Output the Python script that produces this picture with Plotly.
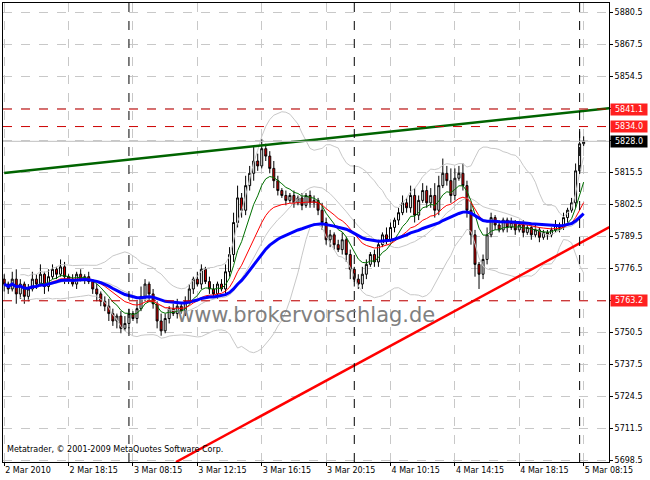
import pandas as pd
import plotly.graph_objects as go

# 15-minute closes
closes = [5770, 5768, 5772, 5766, 5770, 5765, 5768, 5772, 5770, 5774, 5769,
          5773, 5776, 5774, 5777, 5773, 5772, 5770, 5774, 5772, 5773, 5771,
          5768, 5766, 5763, 5761, 5758, 5755, 5757, 5752, 5754, 5758,
          5756, 5760, 5765, 5770, 5766, 5762, 5755, 5751, 5756, 5760,
          5758, 5761, 5759, 5763, 5768, 5772, 5770, 5776, 5771, 5768,
          5766, 5770, 5768, 5775, 5782, 5795, 5805, 5800, 5810, 5815,
          5820, 5818, 5825, 5822, 5817, 5812, 5808, 5806, 5804, 5806,
          5803, 5805, 5802, 5806, 5803, 5804, 5800, 5795, 5788,
          5790, 5786, 5784, 5788, 5782, 5776, 5772, 5770, 5774, 5778,
          5782, 5779, 5786, 5790, 5788, 5793, 5796, 5799, 5803, 5801,
          5806, 5798, 5804, 5808, 5803, 5806, 5800, 5810, 5815, 5812,
          5806, 5813, 5815, 5810, 5800, 5790, 5778, 5774, 5780, 5790,
          5797, 5794, 5792, 5796, 5793, 5795, 5792, 5794, 5791, 5793,
          5790, 5792, 5789, 5791, 5790, 5792, 5794, 5793, 5797, 5800,
          5803, 5816, 5827, 5828]
first_open = 5772
wick_up = [int(v) for v in (
    "2 1 3 4 2 1 2 3 2 4 1 3 2 1 3 2 1 2 1 2 1 2 1 2 1 2 3 2 1 2 3 2 1 3 4 2 1 2 1 3 2 "
    "1 2 3 1 2 2 1 3 2 1 2 2 1 2 3 3 4 5 2 4 3 6 3 4 2 2 3 2 1 2 1 2 1 2 1 2 2 1 3 2 "
    "2 1 2 3 1 2 1 2 3 2 1 2 2 1 3 2 1 2 3 2 4 3 2 3 2 3 5 4 6 3 5 4 3 4 2 3 2 1 2 3 "
    "2 1 2 1 1 2 1 1 2 1 1 2 1 1 1 1 2 1 2 1 2 3 5 2").split()]
wick_dn = [int(v) for v in (
    "3 2 1 4 2 3 2 1 2 1 3 2 1 2 1 3 2 1 2 1 2 1 2 3 2 2 3 2 3 2 1 2 1 2 1 2 3 2 3 2 1 "
    "2 1 2 1 2 1 2 1 2 1 2 1 2 1 2 2 3 2 3 2 2 3 2 1 2 2 3 2 1 2 1 2 1 2 1 2 2 2 3 2 "
    "3 2 1 2 3 4 3 2 2 2 1 2 2 1 2 1 2 2 1 2 2 3 2 1 2 2 3 2 1 2 3 2 1 2 3 4 5 6 2 2 "
    "1 2 1 1 2 1 2 1 2 1 2 1 2 1 2 1 1 2 1 2 1 2 1 1").split()]

tick_idx = [0, 16, 32, 48, 64, 80, 96, 112, 128, 144]
tick_text = ["2 Mar 2010", "2 Mar 18:15", "3 Mar 08:15", "3 Mar 12:15", "3 Mar 16:15",
             "3 Mar 20:15", "4 Mar 10:15", "4 Mar 14:15", "4 Mar 18:15", "5 Mar 08:15"]
price_ticks = [5698.5 + 13 * k for k in range(15)]
day_breaks = [31, 87, 143]

green_line_x = [0, 150.4]
green_line_y = [5815.1, 5841.5]
red_line_x = [42.7, 150.4]
red_line_y = [5697.7, 5793.1]

levels = [5841.1, 5834.0, 5763.2]
bid = 5828.0

df = pd.DataFrame({"close": closes})
df["open"] = df["close"].shift(1).fillna(first_open)
df["high"] = df[["open", "close"]].max(axis=1) + wick_up[:len(df)]
df["low"] = df[["open", "close"]].min(axis=1) - wick_dn[:len(df)]
x = list(range(len(df)))

ma_fast = df["close"].ewm(span=8).mean()
ma_mid = df["close"].ewm(span=18).mean()
ma_slow = df["close"].ewm(span=40).mean()
bb_mid = df["close"].rolling(20, min_periods=5).mean()
bb_std = df["close"].rolling(20, min_periods=5).std()

fig = go.Figure()
for band in (bb_mid + 2 * bb_std, bb_mid - 2 * bb_std, bb_mid):
    fig.add_trace(go.Scatter(x=x, y=band, mode="lines", line=dict(color="#c8c8c8", width=1)))
fig.add_trace(go.Candlestick(
    x=x, open=df["open"], high=df["high"], low=df["low"], close=df["close"],
    increasing=dict(line=dict(color="black", width=1), fillcolor="white"),
    decreasing=dict(line=dict(color="black", width=1), fillcolor="#e00000"),
    whiskerwidth=0))
fig.add_trace(go.Scatter(x=x, y=ma_fast, mode="lines", line=dict(color="#007000", width=1)))
fig.add_trace(go.Scatter(x=x, y=ma_mid, mode="lines", line=dict(color="#ff0000", width=1)))
fig.add_trace(go.Scatter(x=x, y=ma_slow, mode="lines", line=dict(color="#0000ff", width=3)))
fig.add_trace(go.Scatter(x=green_line_x, y=green_line_y, mode="lines", line=dict(color="#006400", width=2.5)))
fig.add_trace(go.Scatter(x=red_line_x, y=red_line_y, mode="lines", line=dict(color="#ff0000", width=2.5)))

for d in day_breaks:
    fig.add_vline(x=d, line=dict(color="black", width=1, dash="dash"))
for lv in levels:
    fig.add_hline(y=lv, line=dict(color="#cc0000", width=1, dash="dash"))
    fig.add_annotation(x=1, xref="paper", xanchor="left", y=lv, text=f"{lv:.1f}", showarrow=False,
                       bgcolor="#ff2020", font=dict(color="white", size=8), borderpad=1,
                       width=34, xshift=1)
fig.add_hline(y=bid, line=dict(color="#c0c0c0", width=1))
fig.add_annotation(x=1, xref="paper", xanchor="left", y=bid, text=f"{bid:.1f}", showarrow=False,
                   bgcolor="black", font=dict(color="white", size=8), borderpad=1,
                   width=34, xshift=1)

fig.add_annotation(x=0.5, y=0.29, xref="paper", yref="paper", text="www.brokervorschlag.de",
                   showarrow=False, font=dict(color="#808080", size=21))
fig.add_annotation(x=0.003, y=0.012, xref="paper", yref="paper", xanchor="left", yanchor="bottom",
                   text="Metatrader, © 2001-2009 MetaQuotes Software Corp.", showarrow=False,
                   font=dict(color="black", size=8))

fig.update_layout(
    width=650, height=480, margin=dict(l=3, r=41, t=3, b=18),
    paper_bgcolor="white", plot_bgcolor="white", showlegend=False,
    font=dict(family="DejaVu Sans", size=8, color="black"),
    xaxis=dict(range=[-0.3, 150.3], tickvals=tick_idx, ticktext=tick_text, ticks="outside",
               ticklen=3, tickcolor="black", ticklabelposition="outside right",
               showgrid=True, gridcolor="#c8c8c8", griddash="dash", rangeslider=dict(visible=False),
               showline=True, linecolor="black", mirror=True, zeroline=False),
    yaxis=dict(range=[5697.7, 5884.2], side="right", tickvals=price_ticks, tickformat=".1f",
               ticks="outside", ticklen=3, tickcolor="black", showgrid=True, gridcolor="#c8c8c8",
               griddash="dash", showline=True, linecolor="black", mirror=True, zeroline=False),
)
fig.write_html("out.html", config={"displayModeBar": False},
               post_script="document.body.style.margin='0';")
